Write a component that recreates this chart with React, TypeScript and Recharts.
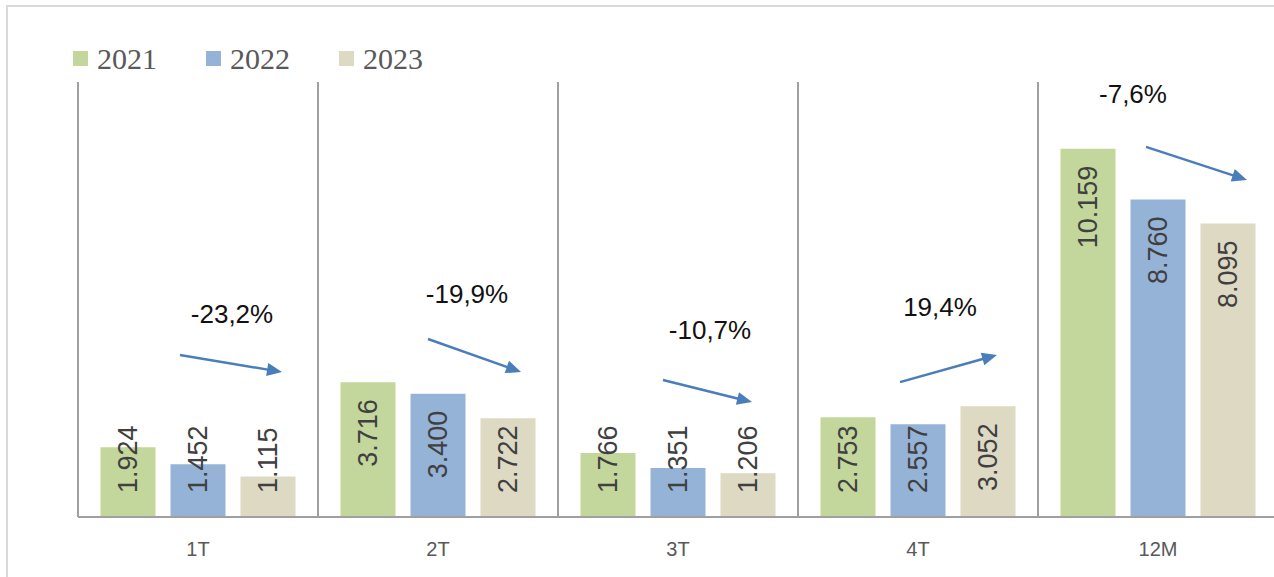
import React from 'react';
import { BarChart, Bar, XAxis, YAxis, CartesianGrid, ReferenceLine, ReferenceDot } from 'recharts';

// ---------- data ----------
const CATEGORIES = ['1T', '2T', '3T', '4T', '12M'];
const SERIES_NAMES = ['2021', '2022', '2023'];
const VALUES_2021 = [1.924, 3.716, 1.766, 2.753, 10.159];
const VALUES_2022 = [1.452, 3.4, 1.351, 2.557, 8.76];
const VALUES_2023 = [1.115, 2.722, 1.206, 3.052, 8.095];
const CHANGE_LABELS = ['-23,2%', '-19,9%', '-10,7%', '19,4%', '-7,6%'];
// annotation anchor heights in value units
const CHANGE_LABEL_Y = [5.6, 6.15, 5.17, 5.79, 11.67];
const ARROW_FROM_Y = [4.47, 4.91, 3.78, 3.72, 10.21];
const ARROW_TO_Y = [4.0, 4.0, 3.17, 4.47, 9.3];
const Y_MAX = 12;

// ---------- layout / style ----------
const COLORS = ['#c3d69b', '#95b3d7', '#ddd9c3'];
const ANNOTATION_LAYOUT = [
  { labelDx: 34, fromDx: -18, toDx: 84 },
  { labelDx: 29, fromDx: -10, toDx: 83 },
  { labelDx: 32, fromDx: -15, toDx: 74 },
  { labelDx: 22, fromDx: -18, toDx: 79 },
  { labelDx: -25, fromDx: -12, toDx: 89 },
];
const ARROW_COLOR = '#4a7ebb';
const SANS = '"Liberation Sans", Arial, sans-serif';
const SERIF = '"Liberation Serif", "Times New Roman", serif';
const VALUE_FS = 27;

const data = CATEGORIES.map((c, i) => ({
  cat: c,
  v2021: VALUES_2021[i],
  v2022: VALUES_2022[i],
  v2023: VALUES_2023[i],
}));
const KEYS = ['v2021', 'v2022', 'v2023'];

const fmt = (v: number) => v.toFixed(3);

const ValueLabel = (props: any) => {
  const { x, y, width, height, value } = props;
  if (value == null) return null;
  const s = fmt(Number(value));
  const digits = s.replace('.', '').length;
  const len = (digits * 0.556 + 0.278) * VALUE_FS;
  const bottom = Number(y) + Number(height);
  const top = Number(y);
  const start = Math.min(bottom - 24, top + 17 + len);
  const cx = Number(x) + Number(width) / 2;
  return (
    <text
      x={cx}
      y={start}
      transform={`rotate(-90, ${cx}, ${start})`}
      textAnchor="start"
      dominantBaseline="central"
      fontFamily={SANS}
      fontSize={VALUE_FS}
      fill="#404040"
    >
      {s}
    </text>
  );
};

const Arrow = ({ x1, y1, x2, y2 }: { x1: number; y1: number; x2: number; y2: number }) => {
  const dx = x2 - x1;
  const dy = y2 - y1;
  const L = Math.sqrt(dx * dx + dy * dy) || 1;
  const ux = dx / L;
  const uy = dy / L;
  const headLen = 15;
  const headW = 6.5;
  const bx = x2 - ux * headLen;
  const by = y2 - uy * headLen;
  const px = -uy;
  const py = ux;
  return (
    <g>
      <line x1={x1} y1={y1} x2={bx + ux * 2} y2={by + uy * 2} stroke={ARROW_COLOR} strokeWidth={2.5} />
      <polygon
        points={`${x2},${y2} ${bx + px * headW},${by + py * headW} ${bx - px * headW},${by - py * headW}`}
        fill={ARROW_COLOR}
      />
    </g>
  );
};

const LegendBox = () => (
  <div
    style={{
      position: 'absolute',
      left: 73,
      top: 43.5,
      height: 30,
      display: 'flex',
      alignItems: 'center',
      fontFamily: SERIF,
      fontSize: 30,
      lineHeight: '30px',
      color: '#595959',
    }}
  >
    {SERIES_NAMES.map((n, i) => (
      <div key={n} style={{ display: 'flex', alignItems: 'center', marginRight: 49 }}>
        <span style={{ display: 'inline-block', width: 15, height: 15, background: COLORS[i], marginRight: 9 }} />
        <span>{n}</span>
      </div>
    ))}
  </div>
);

export default function App() {
  return (
    <div
      style={{
        position: 'fixed',
        left: 0,
        top: 0,
        width: 1274,
        height: 577,
        overflow: 'hidden',
        background: '#ffffff',
      }}
    >
      <div
        style={{
          position: 'absolute',
          left: 6,
          top: 5,
          width: 1400,
          height: 700,
          border: '2px solid #d9d9d9',
        }}
      />
      <div style={{ position: 'absolute', left: 0, top: 0 }}>
        <BarChart
          width={1290}
          height={577}
          data={data}
          margin={{ top: 82, right: 12, left: 78, bottom: 0 }}
          barCategoryGap="9.375%"
          barGap={15}
        >
          <CartesianGrid
            horizontal={false}
            vertical
            stroke="#a0a0a0"
            strokeWidth={2}
            verticalCoordinatesGenerator={(args: any) => {
              const off = args.offset;
              const n = CATEGORIES.length;
              return Array.from({ length: n + 1 }, (_, i) => off.left + (i * off.width) / n);
            }}
          />
          <XAxis
            dataKey="cat"
            height={60}
            tickLine={false}
            axisLine={{ stroke: '#a0a0a0', strokeWidth: 2 }}
            tickMargin={19}
            tick={{ fill: '#595959', fontSize: 20, fontFamily: SANS }}
            interval={0}
          />
          <YAxis hide domain={[0, Y_MAX]} />
          {KEYS.map((k, i) => (
            <Bar
              key={k}
              dataKey={k}
              name={SERIES_NAMES[i]}
              fill={COLORS[i]}
              isAnimationActive={false}
              label={ValueLabel}
            />
          ))}
          {CATEGORIES.map((c, i) => (
            <ReferenceLine
              key={'arr' + c}
              segment={[
                { x: c, y: ARROW_FROM_Y[i] },
                { x: c, y: ARROW_TO_Y[i] },
              ]}
              ifOverflow="visible"
              shape={(p: any) => (
                <Arrow
                  x1={Number(p.x1) + ANNOTATION_LAYOUT[i].fromDx}
                  y1={Number(p.y1)}
                  x2={Number(p.x2) + ANNOTATION_LAYOUT[i].toDx}
                  y2={Number(p.y2)}
                />
              )}
            />
          ))}
          {CATEGORIES.map((c, i) => (
            <ReferenceDot
              key={'lbl' + c}
              x={c}
              y={CHANGE_LABEL_Y[i]}
              r={0}
              ifOverflow="visible"
              shape={(p: any) => (
                <text
                  x={Number(p.cx) + ANNOTATION_LAYOUT[i].labelDx}
                  y={Number(p.cy)}
                  textAnchor="middle"
                  dominantBaseline="central"
                  fontFamily={SANS}
                  fontSize={26}
                  fill="#111111"
                >
                  {CHANGE_LABELS[i]}
                </text>
              )}
            />
          ))}
        </BarChart>
      </div>
      <LegendBox />
    </div>
  );
}
